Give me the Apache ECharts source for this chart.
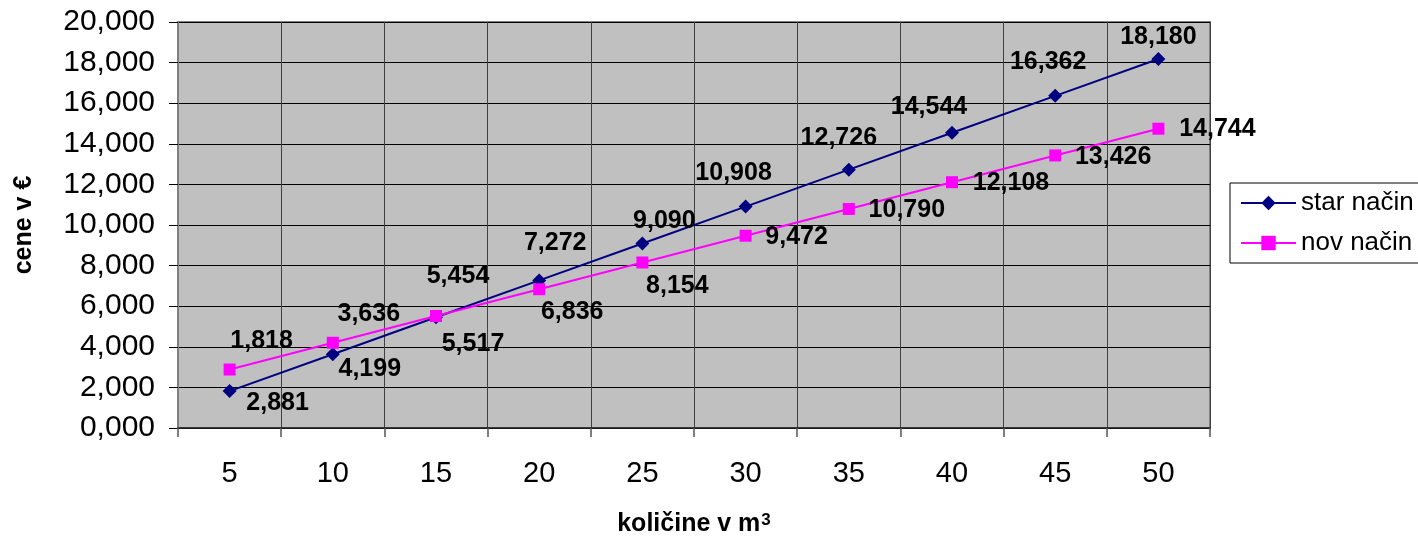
<!DOCTYPE html>
<html>
<head>
<meta charset="utf-8">
<script src="https://cdn.jsdelivr.net/npm/echarts@6/dist/echarts.min.js"></script>
<style>
html,body{margin:0;padding:0;background:#fff;}
#chart{width:1418px;height:537px;}
</style>
</head>
<body>
<div id="chart"></div>
<script>
// ---- data ----
const categories = ['5', '10', '15', '20', '25', '30', '35', '40', '45', '50'];
const starNacin = [1818, 3636, 5454, 7272, 9090, 10908, 12726, 14544, 16362, 18180];
const novNacin = [2881, 4199, 5517, 6836, 8154, 9472, 10790, 12108, 13426, 14744];
const seriesNames = ['star način', 'nov način'];
const yAxisTitle = 'cene v €';
const xAxisTitleMain = 'količine v m';
const xAxisTitleSup = '3';

// label placement (pixel offsets from the marker, as placed in the original)
const starLabelOffset = [[32,-50],[36,-40],[22,-41],[16,-37],[22,-22],[-12,-33],[-10,-32],[-23,-26],[-7,-34],[0,-22]];
const novLabelOffset = [[48,34],[37,26],[37,28],[33,23],[35,24],[51,1],[58,1],[59,1],[58,2],[59,0]];

const FONT = "'Liberation Sans', Arial, Helvetica, sans-serif";
function fmt(v) { return (v / 1000).toFixed(3).replace('.', ','); }

function buildData(values, offsets) {
  return values.map((v, i) => ({
    value: v,
    label: { offset: offsets[i] }
  }));
}

const chart = echarts.init(document.getElementById('chart'), null, { renderer: 'canvas' });
const labelStyle = {
  show: true,
  position: 'inside',
  align: 'center',
  verticalAlign: 'middle',
  fontFamily: FONT,
  fontWeight: 'bold',
  fontSize: 25,
  color: '#000',
  formatter: p => fmt(p.value)
};

chart.setOption({
  animation: false,
  backgroundColor: '#ffffff',
  textStyle: { fontFamily: FONT },
  grid: {
    left: 178, right: 208, top: 22, bottom: 109,
    containLabel: false,
    outerBoundsMode: 'none',
    show: true,
    backgroundColor: '#C0C0C0',
    borderColor: '#808080',
    borderWidth: 2
  },
  legend: {
    orient: 'vertical',
    left: 1230,
    top: 183,
    padding: [7, 10, 7, 10],
    itemGap: 14,
    itemWidth: 55,
    itemHeight: 18,
    borderColor: '#000',
    borderWidth: 1,
    backgroundColor: '#fff',
    textStyle: { fontFamily: FONT, fontSize: 26, color: '#000' },
    data: seriesNames
  },
  xAxis: {
    type: 'category',
    data: categories,
    boundaryGap: true,
    name: '{b|' + xAxisTitleMain + '}{s|' + xAxisTitleSup + '}',
    nameLocation: 'middle',
    nameGap: 84,
    nameTextStyle: {
      fontFamily: FONT, fontSize: 25, fontWeight: 'bold', color: '#000',
      rich: {
        b: { fontFamily: FONT, fontSize: 25, fontWeight: 'bold', color: '#000', verticalAlign: 'bottom' },
        s: { fontFamily: FONT, fontSize: 17, fontWeight: 'bold', color: '#000', verticalAlign: 'top', padding: [0, 0, 0, 1] }
      }
    },
    axisLine: { show: true, lineStyle: { color: '#222', width: 1.5 } },
    axisTick: { show: true, alignWithLabel: false, interval: 0, length: 9, lineStyle: { color: '#555', width: 1.5 } },
    axisLabel: { fontFamily: FONT, fontSize: 29, color: '#000', margin: 31, interval: 0 },
    splitLine: { show: true, interval: 0, lineStyle: { color: '#404040', width: 1 } }
  },
  yAxis: {
    type: 'value',
    min: 0, max: 20000, interval: 2000,
    name: yAxisTitle,
    nameLocation: 'middle',
    nameRotate: 90,
    nameGap: 141,
    nameTextStyle: { fontFamily: FONT, fontSize: 25, fontWeight: 'bold', color: '#000' },
    axisLine: { show: true, lineStyle: { color: '#808080', width: 2 } },
    axisTick: { show: true, length: 9, lineStyle: { color: '#000', width: 1 } },
    axisLabel: { fontFamily: FONT, fontSize: 30, color: '#000', margin: 23, formatter: v => fmt(v) },
    splitLine: { show: true, lineStyle: { color: '#000', width: 1 } }
  },
  series: [
    {
      name: seriesNames[0],
      type: 'line',
      data: buildData(starNacin, starLabelOffset),
      symbol: 'diamond',
      symbolSize: 14,
      itemStyle: { color: '#000080' },
      lineStyle: { color: '#000080', width: 2 },
      label: labelStyle,
      z: 3
    },
    {
      name: seriesNames[1],
      type: 'line',
      data: buildData(novNacin, novLabelOffset),
      symbol: 'rect',
      symbolSize: 12,
      itemStyle: { color: '#FF00FF' },
      lineStyle: { color: '#FF00FF', width: 2 },
      label: labelStyle,
      z: 4
    }
  ]
});
</script>
</body>
</html>
